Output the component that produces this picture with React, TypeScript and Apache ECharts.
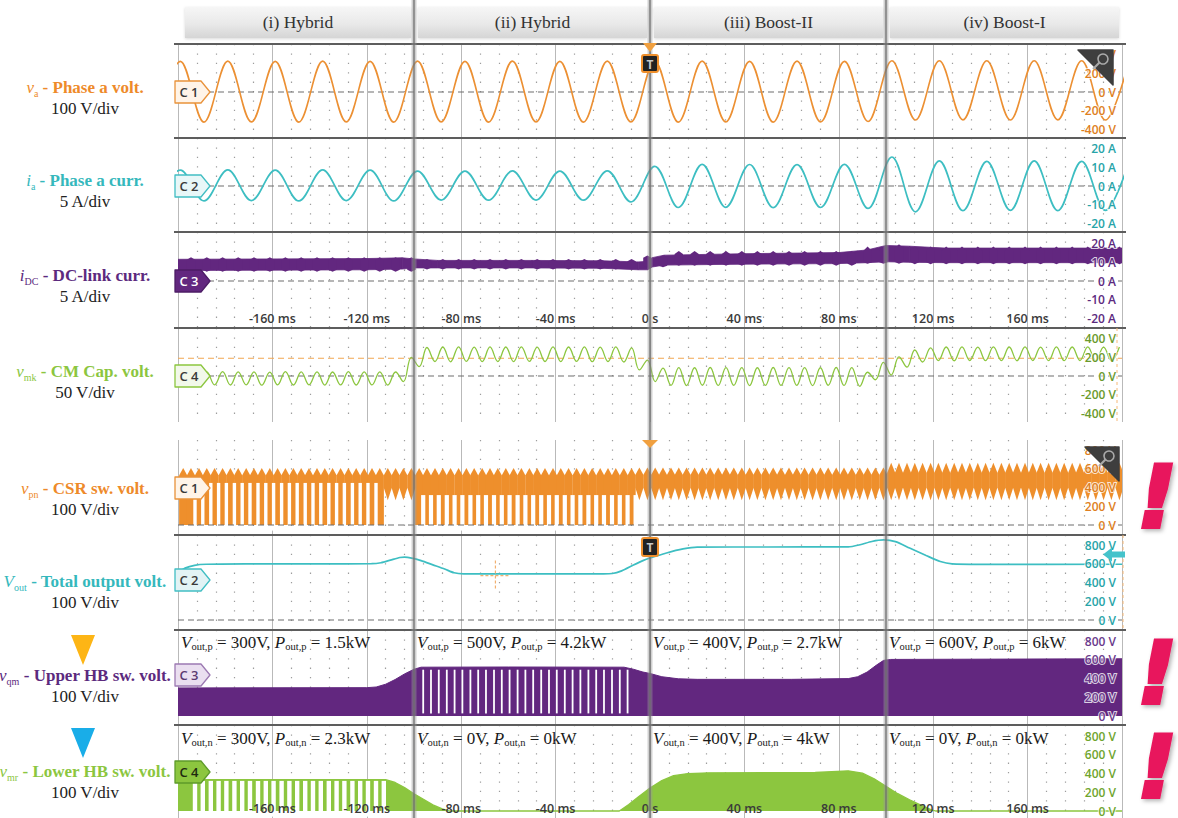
import React, { useEffect, useRef } from 'react';
import * as echarts from 'echarts';

// ===================== DATA (time in ms) =====================
const modeNames = ['(i) Hybrid', '(ii) Hybrid', '(iii) Boost-II', '(iv) Boost-I'];
const modeEdgesMs = [-200, -100, 0, 100, 200];
const timeTicksMs = [-160, -120, -80, -40, 0, 40, 80, 120, 160];
const upperVoltTicks = [-400, -200, 0, 200, 400];
const currentTicks = [-20, -10, 0, 10, 20];
const lowerVoltTicks = [0, 200, 400, 600, 800];

// phase a voltage: successive extrema [t, V]
const vaExtrema = [
  [-209.1, -320], [-199.0, 328], [-189.0, -322], [-178.9, 330], [-168.9, -320], [-158.8, 328], [-148.8, -322], [-138.7, 330], [-128.7, -320], [-118.6, 328], [-108.6, -322],
  [-98.5, 330], [-88.5, -320], [-78.4, 328], [-68.4, -322], [-58.3, 330], [-48.3, -320], [-38.2, 328], [-28.2, -322], [-18.1, 330], [-8.1, -320],
  [2.0, 328], [12.0, -322], [22.1, 330], [32.1, -320], [42.2, 328], [52.2, -322], [62.3, 330], [72.3, -320], [82.4, 328], [92.4, -315],
  [102.5, 335], [112.5, -300], [122.6, 335], [132.6, -298], [142.7, 334], [152.7, -300], [162.8, 335], [172.8, -298], [182.9, 334], [192.9, -300], [203.0, 335],
];
// phase a current: successive extrema [t, A]
const iaExtrema = [
  [-209.1, -8], [-199.0, 8.5], [-189.0, -8], [-178.9, 8.6], [-168.9, -7.8], [-158.8, 8.5], [-148.8, -8], [-138.7, 8.6], [-128.7, -7.8], [-118.6, 8.5], [-108.6, -8],
  [-98.5, 8], [-88.5, -7.5], [-78.4, 8], [-68.4, -7.6], [-58.3, 8.1], [-48.3, -7.5], [-38.2, 8], [-28.2, -7.6], [-18.1, 8.1], [-8.1, -8.5],
  [2.0, 10.5], [12.0, -11.5], [22.1, 11.6], [32.1, -11.4], [42.2, 11.5], [52.2, -11.6], [62.3, 11.4], [72.3, -11.5], [82.4, 11.6], [92.4, -12],
  [102.5, 15.5], [112.5, -13.8], [122.6, 13.4], [132.6, -13.2], [142.7, 13.2], [152.7, -13], [162.8, 13.4], [172.8, -13.2], [182.9, 13.2], [192.9, -13], [203.0, 13.2],
];
// DC-link current band [t, low A, high A]
const iDcEnvelope = [
  [-200, 5.6, 11.6], [-160, 5.8, 11.8], [-120, 6, 12], [-105, 6.4, 12.4], [-100, 7, 11.8], [-90, 7, 11], [-50, 7, 11], [-20, 6.8, 10.8],
  [-5, 6, 10.2], [-1, 6, 10.5], [1, 7.5, 12.5], [6, 8.5, 13.8], [40, 9, 14.6], [80, 9.3, 15.2], [92, 9.8, 16.6], [100, 10.3, 19],
  [110, 10, 18.6], [125, 9.8, 17.6], [200, 9.8, 17.6],
];
// DC-link current ripple teeth: [from, to, tooth bottom, band low, band high, tooth top] (A)
const iDcToothLevels = [
  [-200, -100, 5.0, 6.0, 11.4, 12.7],
  [-100, -2, 6.2, 7.1, 10.6, 11.7],
  [-2, 6, 7.4, 8.2, 12.4, 13.6],
  [6, 90, 8.2, 9.2, 14.4, 16.0],
  [90, 100, 9.2, 10.0, 16.2, 18.4],
  [100, 112, 9.2, 10.2, 17.6, 19.6],
  [112, 201, 9.0, 10.0, 16.4, 18.4],
];
// 300 Hz switching instants (ms)
const pulseT = [
  -197.8, -194.5, -191.1, -187.8, -184.5, -181.1, -177.8, -174.5, -171.1, -167.8,
  -164.5, -161.1, -157.8, -154.5, -151.1, -147.8, -144.5, -141.1, -137.8, -134.5,
  -131.1, -127.8, -124.5, -121.1, -117.8, -114.5, -111.1, -107.8, -104.5, -101.1,
  -97.8, -94.5, -91.1, -87.8, -84.5, -81.1, -77.8, -74.5, -71.1, -67.8,
  -64.5, -61.1, -57.8, -54.5, -51.1, -47.8, -44.5, -41.1, -37.8, -34.5,
  -31.1, -27.8, -24.5, -21.1, -17.8, -14.5, -11.1, -7.8, -4.5, -1.1,
  2.2, 5.5, 8.9, 12.2, 15.5, 18.9, 22.2, 25.5, 28.9, 32.2,
  35.5, 38.9, 42.2, 45.5, 48.9, 52.2, 55.5, 58.9, 62.2, 65.5,
  68.9, 72.2, 75.5, 78.9, 82.2, 85.5, 88.9, 92.2, 95.5, 98.9,
  102.2, 105.5, 108.9, 112.2, 115.5, 118.9, 122.2, 125.5, 128.9, 132.2,
  135.5, 138.9, 142.2, 145.5, 148.9, 152.2, 155.5, 158.9, 162.2, 165.5,
  168.9, 172.2, 175.5, 178.9, 182.2, 185.5, 188.9, 192.2, 195.5, 198.9,
];
// zero-voltage notches between pulses (ms)
const gapT = [
  -196.1, -192.8, -189.5, -186.1, -182.8, -179.5, -176.1, -172.8, -169.5, -166.1,
  -162.8, -159.5, -156.1, -152.8, -149.5, -146.1, -142.8, -139.5, -136.1, -132.8,
  -129.5, -126.1, -122.8, -119.5, -116.1, -112.8, -109.5, -106.1, -102.8, -99.5,
  -96.1, -92.8, -89.5, -86.1, -82.8, -79.5, -76.1, -72.8, -69.5, -66.1,
  -62.8, -59.5, -56.1, -52.8, -49.5, -46.1, -42.8, -39.5, -36.1, -32.8,
  -29.5, -26.1, -22.8, -19.5, -16.1, -12.8, -9.5, -6.1, -2.8,
];
// CM capacitor voltage at the pulse instants (V)
const vmkV = [
  -95, 45, -97, 43, -94, 46, -96, 44, -95, 45, -98, 42, -95, 46, -96, 44, -94, 45, -97, 43, -95, 46, -96, 44, -95, 45, -97, 43,
  -60, 200, 100, 305,
  155, 310, 152, 312, 156, 309, 154, 311, 155, 310, 153, 312, 156, 309, 155, 311, 154, 310, 156, 312, 153, 309, 155, 311, 150,
  300, 65, 170, -60, 85,
  -100, 90, -102, 88, -99, 91, -101, 89, -100, 90, -103, 88, -100, 91, -101, 89, -100, 90, -102, 88, -99, 91, -101, 89, -110,
  40, -40, 145, 10, 205, 95, 278, 150, 300,
  165, 310, 163, 312, 166, 309, 164, 311, 165, 310, 163, 312, 166, 309, 165, 311, 164, 310, 166, 312, 163, 309, 165, 311,
];
const vmkTriggerLevel = 190;
// CSR switch voltage: [from, to, lobe bottom, band low, band high, lobe top] (V)
const vpnLevels = [
  [-200, -112.5, 0, 0, 530, 610],
  [-112.5, -100, 265, 400, 530, 610],
  [-100, -5, 0, 0, 530, 610],
  [-5, 100, 265, 400, 535, 615],
  [100, 201, 265, 405, 555, 665],
];
const vpnGapSpans = [[-193, -113, -60, 450], [-98, -5.5, -60, 320]];
// total output voltage [t, V]
const voutPoints = [
  [-200, 505], [-197, 555], [-193, 585], [-188, 596], [-170, 600], [-140, 601], [-118, 602], [-114, 612], [-110, 640], [-106, 668],
  [-104, 672], [-101, 662], [-97, 635], [-92, 590], [-87, 545], [-83, 505], [-79, 494], [-50, 493], [-20, 494], [-16, 497],
  [-12, 525], [-7, 588], [-3, 635], [0, 663], [7, 717], [14, 760], [20, 780], [50, 781], [84, 782], [89, 805],
  [94, 840], [99, 856], [104, 838], [110, 770], [117, 690], [123, 625], [128, 600], [140, 595], [200, 596],
];
// upper half-bridge switch voltage envelope [t, V]
const vqmPoints = [
  [-200, 300], [-150, 302], [-120, 303], [-116, 310], [-112, 340], [-108, 390], [-104, 450], [-100, 500], [-97, 522], [-60, 524],
  [-11, 522], [-7, 500], [-3, 470], [0, 455], [5, 420], [12, 398], [20, 392], [60, 392], [84, 400], [88, 420],
  [92, 470], [96, 545], [99, 595], [102, 605], [200, 612],
];
const vqmGapSpans = [[-97, -9, 28, 495]];
// lower half-bridge switch voltage envelope [t, V]
const vmrPoints = [
  [-200, 335], [-112, 335], [-108, 305], [-104, 250], [-100, 185], [-96, 125], [-92, 65], [-88, 22], [-85, 0], [-13, 0],
  [-9, 70], [-5, 150], [0, 245], [5, 325], [10, 378], [16, 400], [25, 408], [70, 412], [84, 430], [90, 405],
  [95, 345], [100, 265], [105, 185], [110, 120], [115, 60], [119, 15], [121, 0], [200, 0],
];
const vmrGapSpans = [[-193, -112, -60, 322]];
const upperVoutV = [300, 500, 400, 600];
const upperPoutKW = ['1.5', '4.2', '2.7', '6'];
const lowerVoutV = [300, 0, 400, 0];
const lowerPoutKW = ['2.3', '0', '4', '0'];

// ===================== LAYOUT & STYLE =====================
const GL = 178;
const GW = 944;
const PX_PER_STEP = 18.7;
const SERIF = '"Liberation Serif", "Times New Roman", serif';
const SANS = '"Open Sans", "Noto Sans", sans-serif';
const ORANGE = '#EE8F2C';
const TEAL = '#3DBEC2';
const PURPLE = '#62277F';
const GREEN = '#8CC63F';

const panels = [
  { top: 44, h: 94, zero: 92, step: 200, unit: 'V', ticks: upperVoltTicks, axisColor: '#DE7F22', labelColor: '#EE8A2A', main: 'v', sub: 'a', title: ' - Phase a volt.', scale: '100 V/div', labelY: 98, badge: 'C 1', badgeY: 92, bFill: '#FFF4E8', bStroke: '#E9923A', bText: '#3a3a3a' },
  { top: 138, h: 94, zero: 186, step: 10, unit: 'A', ticks: currentTicks, axisColor: '#27A4A8', labelColor: '#35B8BC', main: 'i', sub: 'a', title: ' - Phase a curr.', scale: '5 A/div', labelY: 191, badge: 'C 2', badgeY: 186, bFill: '#E8F7F8', bStroke: '#41BEC3', bText: '#3a3a3a' },
  { top: 232, h: 96, zero: 281, step: 10, unit: 'A', ticks: currentTicks, axisColor: '#5C2A7E', labelColor: '#5C2A7E', main: 'i', sub: 'DC', title: ' - DC-link curr.', scale: '5 A/div', labelY: 286, badge: 'C 3', badgeY: 281, bFill: '#62277F', bStroke: '#4d1d66', bText: '#ffffff' },
  { top: 328, h: 94, zero: 376, step: 200, unit: 'V', ticks: upperVoltTicks, axisColor: '#6A9A2C', labelColor: '#8CC63F', main: 'v', sub: 'mk', title: ' - CM Cap. volt.', scale: '50 V/div', labelY: 382, badge: 'C 4', badgeY: 376, bFill: '#F2F8EA', bStroke: '#8CC63F', bText: '#3a3a3a' },
  { top: 440, h: 95, zero: 525, step: 200, unit: 'V', ticks: lowerVoltTicks, axisColor: '#DE7F22', labelColor: '#EE8A2A', main: 'v', sub: 'pn', title: ' - CSR sw. volt.', scale: '100 V/div', labelY: 499, badge: 'C 1', badgeY: 488, bFill: '#FFF4E8', bStroke: '#E9923A', bText: '#3a3a3a' },
  { top: 535, h: 95, zero: 620, step: 200, unit: 'V', ticks: lowerVoltTicks, axisColor: '#27A4A8', labelColor: '#35B8BC', main: 'V', sub: 'out', title: ' - Total output volt.', scale: '100 V/div', labelY: 592, badge: 'C 2', badgeY: 580, bFill: '#E2F3F5', bStroke: '#41BEC3', bText: '#3a3a3a' },
  { top: 630, h: 95, zero: 716, step: 200, unit: 'V', ticks: lowerVoltTicks, axisColor: '#6A3A8C', labelColor: '#5C2A7E', main: 'v', sub: 'qm', title: ' - Upper HB sw. volt.', scale: '100 V/div', labelY: 686, badge: 'C 3', badgeY: 675, bFill: '#EADFF0', bStroke: '#9C79B2', bText: '#5a3a70' },
  { top: 725, h: 93, zero: 811, step: 200, unit: 'V', ticks: lowerVoltTicks, axisColor: '#6FA52E', labelColor: '#8CC63F', main: 'v', sub: 'mr', title: ' - Lower HB sw. volt.', labelY: 782, scale: '100 V/div', badge: 'C 4', badgeY: 772, bFill: '#8CC63F', bStroke: '#5E9B2A', bText: '#1f2a10' },
];

const inSpan = (t: number, spans: number[][]) => spans.find((s) => t >= s[0] && t <= s[1]);
const gapData = (spans: number[][]) =>
  gapT.filter((t) => inSpan(t, spans)).map((t) => {
    const s = inSpan(t, spans) as number[];
    return [t, s[2], s[3]];
  });
const levelData = (times: number[], levels: number[][]) =>
  times.map((t) => {
    const l = levels.find((r) => t >= r[0] && t < r[1]) || levels[levels.length - 1];
    return [t, l[2], l[3], l[4], l[5]];
  });
const vpnLobeData = levelData(pulseT, vpnLevels);
const iDcToothData = levelData(pulseT.filter((_t, k) => k % 2 === 1), iDcToothLevels);
const vmkData = pulseT.map((t, k) => [t, vmkV[k]]);
const iDcSegments = iDcEnvelope.slice(0, -1).map((r, k) => {
  const n = iDcEnvelope[k + 1];
  return [r[0], r[1], r[2], n[0], n[1], n[2]];
});

const rectRender = (widthPx: number, color: string) => (_p: any, api: any) => {
  const t = api.value(0);
  const a = api.coord([t, api.value(1)]);
  const b = api.coord([t, api.value(2)]);
  return { type: 'rect', shape: { x: a[0] - widthPx / 2, y: b[1], width: widthPx, height: a[1] - b[1] }, style: { fill: color } };
};
const lobeRender = (hw: number, color: string) => (_p: any, api: any) => {
  const t = api.value(0);
  const pb = api.coord([t, api.value(1)]);
  const pl = api.coord([t, api.value(2)]);
  const ph = api.coord([t, api.value(3)]);
  const pt = api.coord([t, api.value(4)]);
  const x = pb[0];
  return {
    type: 'polygon',
    shape: { points: [[x, pb[1]], [x + hw, pl[1]], [x + hw, ph[1]], [x, pt[1]], [x - hw, ph[1]], [x - hw, pl[1]]] },
    style: { fill: color },
  };
};
const bandRender = (color: string) => (_p: any, api: any) => {
  const a0 = api.coord([api.value(0), api.value(1)]);
  const a1 = api.coord([api.value(3), api.value(4)]);
  const b1 = api.coord([api.value(3), api.value(5)]);
  const b0 = api.coord([api.value(0), api.value(2)]);
  return { type: 'polygon', shape: { points: [a0, a1, b1, b0] }, style: { fill: color, stroke: color, lineWidth: 0.8 } };
};

function buildOption(): any {
  const grid = panels.map((p) => ({ left: GL, top: p.top, width: GW, height: p.h }));
  const xAxis: any[] = panels.map((_p, i) => ({
    type: 'value', gridIndex: i, min: -200, max: 200, interval: 40, position: 'top',
    axisLine: { show: false, onZero: false }, axisTick: { show: false }, axisLabel: { show: false },
    splitLine: { show: true, lineStyle: { color: '#b9b9b9', width: 1 } },
    minorTick: { show: false, splitNumber: 5 },
    minorSplitLine: { show: true, lineStyle: { color: '#9d9d9d', width: 1.2, type: [1.3, 8.1] } },
  }));
  const labelAxis = (g: number) => ({
    type: 'value', gridIndex: g, min: -200, max: 200, position: 'bottom', z: 10,
    axisLine: { show: false, onZero: false }, axisTick: { show: false }, splitLine: { show: false },
    axisLabel: {
      show: true, inside: true, margin: 3, customValues: timeTicksMs,
      formatter: (v: number) => (Number(v) === 0 ? '0 s' : `${v} ms`),
      color: '#3a3a3a', fontFamily: SANS, fontWeight: 600, fontSize: 12.5,
    },
  });
  xAxis.push(labelAxis(2), labelAxis(7));
  const yAxis = panels.map((p, i) => ({
    type: 'value', gridIndex: i, position: 'right', z: 10,
    min: -((p.top + p.h - p.zero) / PX_PER_STEP) * p.step,
    max: ((p.zero - p.top) / PX_PER_STEP) * p.step,
    axisLine: { show: false, onZero: false }, axisTick: { show: false }, splitLine: { show: false },
    axisLabel: {
      inside: true, margin: 6, customValues: p.ticks,
      formatter: (v: number) => `${v} ${p.unit}`,
      color: p.axisColor, fontFamily: SANS, fontWeight: 600, fontSize: 12,
      textBorderColor: 'rgba(255,255,255,0.8)', textBorderWidth: 2,
    },
  }));
  const line = (i: number, data: any[], color: string, width: number, smooth: number, extra: any = {}) => ({
    type: 'line', xAxisIndex: i, yAxisIndex: i, data, symbol: 'none', smooth, silent: true,
    lineStyle: { color, width }, ...extra,
  });
  const ref = (i: number, v: number, color = '#6e6e6e', z = 1) => ({
    type: 'line', xAxisIndex: i, yAxisIndex: i, data: [[-200, v], [200, v]], symbol: 'none', silent: true, z,
    lineStyle: { color, width: 1.2, type: [6, 4] },
  });
  const custom = (i: number, data: any[], renderItem: any, x: number[], y: number[], z = 2) => ({
    type: 'custom', xAxisIndex: i, yAxisIndex: i, data, renderItem, clip: true, silent: true, z,
    encode: { x, y },
  });

  const series: any[] = [
    ref(0, 0), line(0, vaExtrema, '#EC9033', 1.6, 0.36),
    ref(1, 0), line(1, iaExtrema, TEAL, 1.7, 0.36),
    ref(2, 0),
    custom(2, iDcSegments, bandRender(PURPLE), [0, 3], [1, 2, 4, 5]),
    custom(2, iDcToothData, lobeRender(4.2, PURPLE), [0], [1, 2, 3, 4], 3),
    ref(3, 0), ref(3, vmkTriggerLevel, '#F2A650'),
    line(3, vmkData, GREEN, 1.3, 0.4),
    custom(4, vpnLobeData, lobeRender(4.1, ORANGE), [0], [1, 2, 3, 4]),
    custom(4, gapData([vpnGapSpans[0]]), rectRender(3.4, '#ffffff'), [0], [1, 2], 3),
    custom(4, gapData([vpnGapSpans[1]]), rectRender(4.2, '#ffffff'), [0], [1, 2], 3),
    ref(4, 0, '#6e6e6e', 4),
    ref(5, 0), line(5, voutPoints, TEAL, 1.7, 0.25),
    line(6, vqmPoints, PURPLE, 1, 0, { areaStyle: { color: PURPLE, opacity: 1 } }),
    custom(6, gapData(vqmGapSpans), rectRender(1.8, '#ffffff'), [0], [1, 2], 4),
    line(7, vmrPoints, GREEN, 1.3, 0, { areaStyle: { color: GREEN, opacity: 1 } }),
    custom(7, gapData(vmrGapSpans), rectRender(4.4, '#ffffff'), [0], [1, 2], 4),
  ];
  return { animation: false, backgroundColor: '#ffffff', grid, xAxis, yAxis, series };
}

function buildGraphics(chart: any): any[] {
  const xp = (t: number) => chart.convertToPixel({ xAxisIndex: 0 }, t) as number;
  const yp = (i: number, v: number) => chart.convertToPixel({ yAxisIndex: i }, v) as number;
  const els: any[] = [];

  // header boxes
  modeNames.forEach((name, i) => {
    const x0 = xp(modeEdgesMs[i]) + (i === 0 ? 7 : 4);
    const x1 = xp(modeEdgesMs[i + 1]) - 3;
    els.push({
      type: 'rect', z: 1, shape: { x: x0, y: 7, width: x1 - x0, height: 31 },
      style: {
        fill: new echarts.graphic.LinearGradient(0, 0, 0, 1, [
          { offset: 0, color: '#f6f6f6' }, { offset: 0.55, color: '#e9e9e9' }, { offset: 1, color: '#d5d5d5' },
        ]),
        shadowBlur: 3, shadowColor: 'rgba(0,0,0,0.15)', shadowOffsetY: 1,
      },
    });
    els.push({
      type: 'text', z: 2, x: (x0 + x1) / 2, y: 22,
      style: { text: name, fontFamily: SERIF, fontSize: 17.5, fill: '#333', align: 'center', verticalAlign: 'middle', textAlign: 'center', textVerticalAlign: 'middle' },
    });
  });

  // panel borders
  [44, 138, 232, 328, 535, 630, 725].forEach((y) => {
    els.push({ type: 'line', z: 40, shape: { x1: GL - 4, y1: y, x2: GL + GW + 4, y2: y }, style: { stroke: '#5d5d5d', lineWidth: 1.8 } });
  });

  // left labels + badges
  panels.forEach((p) => {
    els.push({
      type: 'text', z: 60, x: 85, y: p.labelY,
      style: {
        text: `{m|${p.main}}{s|${p.sub}}{t|${p.title}}\n{n|${p.scale}}`,
        align: 'center', verticalAlign: 'middle', textAlign: 'center', textVerticalAlign: 'middle',
        rich: {
          m: { fontFamily: SERIF, fontStyle: 'italic', fontSize: 17, fill: p.labelColor, lineHeight: 21, verticalAlign: 'middle' },
          s: { fontFamily: SERIF, fontSize: 10, fill: p.labelColor, lineHeight: 10, verticalAlign: 'bottom' },
          t: { fontFamily: SERIF, fontWeight: 'bold', fontSize: 17, fill: p.labelColor, lineHeight: 21, verticalAlign: 'middle' },
          n: { fontFamily: SERIF, fontSize: 17, fill: '#222', lineHeight: 21, verticalAlign: 'middle' },
        },
      },
    });
    const bx = 175;
    const by = p.badgeY;
    els.push({
      type: 'polygon', z: 70,
      shape: { points: [[bx, by - 11], [bx + 26, by - 11], [bx + 35, by], [bx + 26, by + 11], [bx, by + 11]] },
      style: { fill: p.bFill, stroke: p.bStroke, lineWidth: 1.3, lineJoin: 'round' },
    });
    els.push({
      type: 'text', z: 71, x: bx + 14, y: by,
      style: { text: p.badge, fontFamily: SANS, fontWeight: 600, fontSize: 13, fill: p.bText, align: 'center', verticalAlign: 'middle', textAlign: 'center', textVerticalAlign: 'middle' },
    });
  });

  // mode boundaries
  [modeEdgesMs[1], modeEdgesMs[2], modeEdgesMs[3]].forEach((t) => {
    const x = xp(t);
    els.push({ type: 'line', z: 50, shape: { x1: x, y1: 0, x2: x, y2: 818 }, style: { stroke: 'rgba(150,150,150,0.45)', lineWidth: 5 } });
    els.push({ type: 'line', z: 51, shape: { x1: x, y1: 0, x2: x, y2: 818 }, style: { stroke: 'rgba(110,110,110,0.8)', lineWidth: 1.6 } });
  });

  // trigger markers
  const x0 = xp(0);
  els.push({ type: 'polygon', z: 80, shape: { points: [[x0 - 7, 43], [x0 + 7, 43], [x0, 52]] }, style: { fill: '#F0A040' } });
  els.push({ type: 'polygon', z: 80, shape: { points: [[x0 - 8, 440], [x0 + 8, 440], [x0, 448]] }, style: { fill: '#F0A040' } });
  [[55, 72], [538, 556]].forEach(([y1, y2]) => {
    els.push({ type: 'rect', z: 80, shape: { x: x0 - 8, y: y1, width: 16, height: y2 - y1, r: 2 }, style: { fill: '#222', stroke: '#EE8F2C', lineWidth: 2 } });
    els.push({
      type: 'text', z: 81, x: x0, y: (y1 + y2) / 2 + 0.5,
      style: { text: 'T', fontFamily: SANS, fontWeight: 700, fontSize: 12, fill: '#c8c8c8', align: 'center', verticalAlign: 'middle', textAlign: 'center', textVerticalAlign: 'middle' },
    });
  });

  // magnifier corner icons
  [[1078, 50, 35], [1085, 447, 34]].forEach(([x, y, s]) => {
    els.push({ type: 'polygon', z: 80, shape: { points: [[x, y], [x + s, y], [x + s, y + s]] }, style: { fill: '#3e3e3e', stroke: '#3e3e3e', lineWidth: 1.5, lineJoin: 'round' } });
    els.push({ type: 'circle', z: 81, shape: { cx: x + s - 10, cy: y + 9, r: 5 }, style: { fill: 'none', stroke: '#a9a9a9', lineWidth: 1.6 } });
    els.push({ type: 'line', z: 81, shape: { x1: x + s - 13.5, y1: y + 12.5, x2: x + s - 20, y2: y + 19 }, style: { stroke: '#a9a9a9', lineWidth: 2.2 } });
  });

  // output-voltage reference arrow
  const ay = yp(5, 700);
  els.push({
    type: 'polygon', z: 80,
    shape: { points: [[1103, ay], [1112, ay - 7], [1112, ay - 3], [1125, ay - 3], [1125, ay + 3], [1112, ay + 3], [1112, ay + 7]] },
    style: { fill: '#45C3CB' },
  });

  // cursor cross in Vout panel
  const cx = xp(-65.5);
  const cy = yp(5, 475);
  els.push({ type: 'line', z: 45, shape: { x1: cx, y1: cy - 15, x2: cx, y2: cy + 15 }, style: { stroke: '#F2B070', lineWidth: 1.2, lineDash: [3, 2] } });
  els.push({ type: 'line', z: 45, shape: { x1: cx - 15, y1: cy, x2: cx + 15, y2: cy }, style: { stroke: '#F2B070', lineWidth: 1.2, lineDash: [3, 2] } });

  // right-edge dashed markers
  els.push({ type: 'line', z: 45, shape: { x1: 1117, y1: 328, x2: 1117, y2: 422 }, style: { stroke: '#F6B978', lineWidth: 1, lineDash: [3, 3] } });
  els.push({ type: 'line', z: 45, shape: { x1: 1123, y1: 535, x2: 1123, y2: 630 }, style: { stroke: '#F6B978', lineWidth: 1, lineDash: [3, 3] } });

  // operating point annotations
  const annRich = {
    i: { fontFamily: SERIF, fontStyle: 'italic', fontSize: 17, fill: '#1a1a1a', lineHeight: 20, verticalAlign: 'middle' },
    s: { fontFamily: SERIF, fontSize: 10.5, fill: '#1a1a1a', lineHeight: 10, verticalAlign: 'bottom' },
    t: { fontFamily: SERIF, fontSize: 17, fill: '#1a1a1a', lineHeight: 20, verticalAlign: 'middle' },
  };
  for (let i = 0; i < 4; i++) {
    const x = xp(modeEdgesMs[i]) + 3;
    els.push({
      type: 'text', z: 60, x, y: 642,
      style: { text: `{i|V}{s|out,p}{t| = ${upperVoutV[i]}V, }{i|P}{s|out,p}{t| = ${upperPoutKW[i]}kW}`, align: 'left', verticalAlign: 'middle', textAlign: 'left', textVerticalAlign: 'middle', rich: annRich },
    });
    els.push({
      type: 'text', z: 60, x, y: 738,
      style: { text: `{i|V}{s|out,n}{t| = ${lowerVoutV[i]}V, }{i|P}{s|out,n}{t| = ${lowerPoutKW[i]}kW}`, align: 'left', verticalAlign: 'middle', textAlign: 'left', textVerticalAlign: 'middle', rich: annRich },
    });
  }

  // side triangles
  els.push({ type: 'polygon', z: 65, shape: { points: [[71, 635], [95, 635], [83, 665]] }, style: { fill: '#FDB515' } });
  els.push({ type: 'polygon', z: 65, shape: { points: [[71, 728], [95, 728], [83, 758]] }, style: { fill: '#19ADE8' } });

  // exclamation marks
  [497, 673, 767].forEach((y) => {
    els.push({
      type: 'text', z: 90, x: 1157, y,
      style: {
        text: '!', fontFamily: '"DejaVu Sans", sans-serif', fontWeight: 'bold', fontStyle: 'italic', fontSize: 86, lineHeight: 80,
        fill: '#E8175D', stroke: '#E8175D', lineWidth: 4,
        align: 'center', verticalAlign: 'middle', textAlign: 'center', textVerticalAlign: 'middle',
        textShadowColor: 'rgba(0,0,0,0.3)', textShadowBlur: 4, textShadowOffsetX: 2, textShadowOffsetY: 2,
      },
    });
  });
  return els;
}

export default function App() {
  const ref = useRef<HTMLDivElement>(null);
  useEffect(() => {
    if (!ref.current) return;
    const chart = echarts.init(ref.current, undefined, { renderer: 'svg' });
    chart.setOption(buildOption());
    chart.setOption({ graphic: { elements: buildGraphics(chart) } });
    return () => chart.dispose();
  }, []);
  return (
    <div
      ref={ref}
      style={{ position: 'fixed', left: 0, top: 0, width: 1178, height: 818, background: '#ffffff' }}
    />
  );
}
